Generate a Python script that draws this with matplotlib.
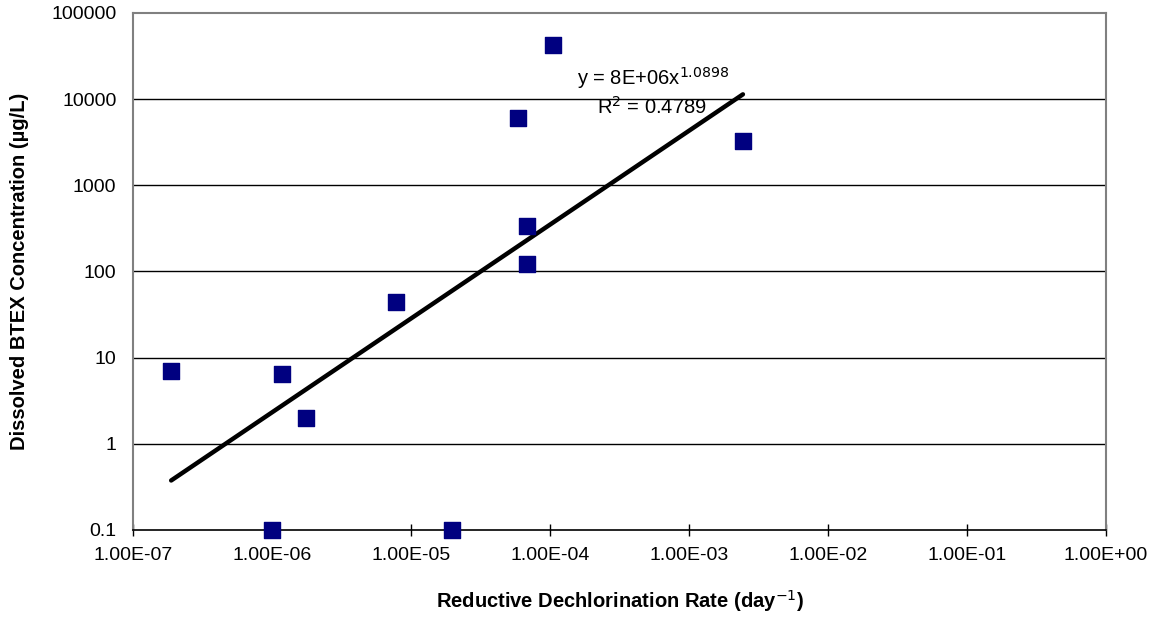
import numpy as np
import matplotlib
matplotlib.use("Agg")
import matplotlib.pyplot as plt

plt.rcParams['font.family'] = ['Liberation Sans', 'DejaVu Sans']

# data
rate = [1.88e-7, 1.0e-6, 1.18e-6, 1.76e-6, 7.8e-6, 1.97e-5, 5.9e-5, 6.8e-5, 6.8e-5, 1.05e-4, 2.44e-3]
btex = [7.0, 0.1, 6.5, 2.0, 44, 0.1, 6000, 336, 122, 42400, 3260]

# power trend fit shown on the chart
coef = 8e6
power = 1.0898
xticks = [1e-7, 1e-6, 1e-5, 1e-4, 1e-3, 1e-2, 1e-1, 1e0]
xticklabels = ['1.00E-07', '1.00E-06', '1.00E-05', '1.00E-04', '1.00E-03', '1.00E-02', '1.00E-01', '1.00E+00']
yticks = [0.1, 1, 10, 100, 1000, 10000, 100000]
yticklabels = ['0.1', '1', '10', '100', '1000', '10000', '100000']

fig = plt.figure(figsize=(11.57, 6.19), dpi=100)
ax = fig.add_axes([0.115, 0.144, 0.841, 0.835])

ax.set_xscale('log')
ax.set_yscale('log')
ax.set_xlim(1e-7, 1)
ax.set_ylim(0.1, 100000)

# horizontal gridlines
for yv in yticks[1:-1]:
    ax.axhline(yv, color='black', lw=1, zorder=1)

xs = np.array([min(rate), max(rate)])
ax.plot(xs, coef * xs ** power, color='black', lw=3.2, solid_capstyle='round', zorder=2)
ax.scatter(rate, btex, marker='s', s=120, color='#000080', zorder=3, clip_on=False)

ax.text(0.456, 0.874, r'y = 8E+06x$^{1.0898}$', transform=ax.transAxes, fontsize=14.5,
        ha='left', va='center')
ax.text(0.477, 0.818, 'R$^2$ = 0.4789', transform=ax.transAxes, fontsize=14.5,
        ha='left', va='center')

ax.set_xticks(xticks)
ax.set_xticklabels(xticklabels)
ax.set_yticks(yticks)
ax.set_yticklabels(yticklabels)
ax.minorticks_off()
ax.tick_params(axis='x', direction='inout', length=8, width=1, labelsize=14, pad=8)
ax.tick_params(axis='y', length=0, labelsize=14, pad=12)

for s in ['left', 'top', 'right']:
    ax.spines[s].set_color('#808080')
    ax.spines[s].set_linewidth(1.5)
ax.spines['bottom'].set_color('black')
ax.spines['bottom'].set_linewidth(1.2)

ax.set_xlabel('Reductive Dechlorination Rate (day$^{-1}$)', fontsize=14.5, fontweight='bold', labelpad=18)
ax.set_ylabel('Dissolved BTEX Concentration (\u00b5g/L)', fontsize=14.5, fontweight='bold', labelpad=16)

fig.savefig('out.png', dpi=100)
